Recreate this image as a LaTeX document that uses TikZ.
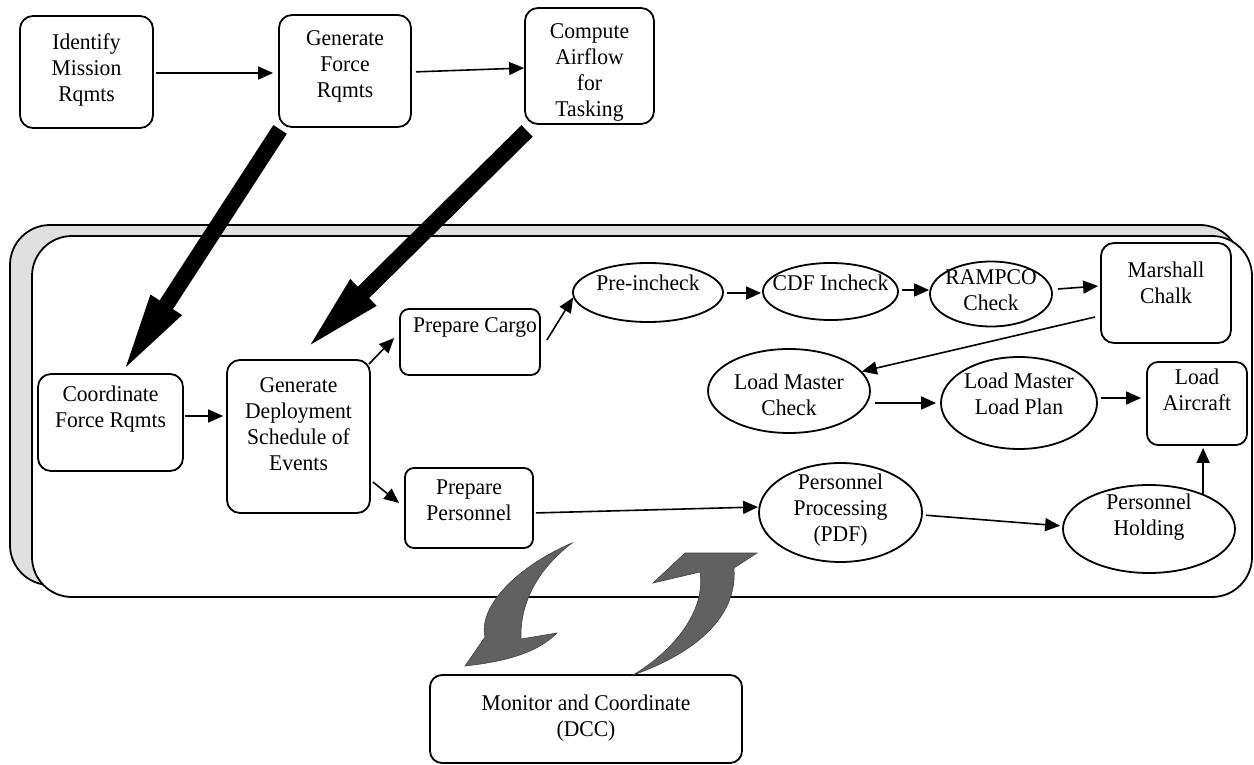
\documentclass[tikz,border=0pt]{standalone}
\usepackage{fontspec}
\setmainfont{Liberation Serif}[FakeStretch=0.96]
\usetikzlibrary{arrows.meta,shapes.geometric,calc}
\begin{document}
\begin{tikzpicture}[x=1pt,y=-1pt,
  box/.style={draw, line width=1.8pt, rounded corners=13pt, inner sep=0pt, fill=white},
  oval/.style={draw, ellipse, line width=1.8pt, inner sep=0pt, fill=white},
  txt/.style={align=center, inner sep=0pt, font=\fontsize{22.5}{26}\selectfont},
  flow/.style={line width=1.6pt, -{Triangle[length=15pt,width=13pt]}},
  bigflow/.style={line width=16pt, -{Triangle[length=85pt,width=32pt]}},
  swirl/.style={fill=black!62, draw=black!75, line width=0.6pt},
  framebox/.style={draw, line width=1.8pt, rounded corners=40pt}]
\useasboundingbox (0,0) rectangle (1254,765);
\fill[white] (0,0) rectangle (1254,765);

% frame with shadow
\draw[framebox, fill=black!12] (10,225) rectangle (1240,585);
\draw[framebox, fill=white] (32,236) rectangle (1252,597);

% top row
\node[box, minimum width=133pt, minimum height=112pt] (identify) at (86.5,72) {};
\node[txt] (identifyt) at (86.5,70) {Identify\\Mission\\Rqmts};
\node[box, minimum width=132pt, minimum height=112pt] (genforce) at (345,71) {};
\node[txt] (genforcet) at (345,66) {Generate\\Force\\Rqmts};
\node[box, minimum width=129pt, minimum height=116pt] (compute) at (589.5,66) {};
\node[txt] (computet) at (589.5,72.5) {Compute\\Airflow\\for\\Tasking};

% left part
\node[box, minimum width=145pt, minimum height=97pt] (coord) at (110.5,422.5) {};
\node[txt] (coordt) at (110.5,409) {Coordinate\\Force Rqmts};
\node[box, minimum width=143pt, minimum height=153pt] (gendep) at (298.5,436.5) {};
\node[txt] (gendept) at (298.5,424) {Generate\\Deployment\\Schedule of\\Events};
\node[box, rounded corners=9pt, minimum width=140pt, minimum height=66pt] (cargo) at (470,342) {};
\node[txt] (cargot) at (475,327) {Prepare Cargo};
\node[box, rounded corners=9pt, minimum width=128pt, minimum height=80pt] (personnel) at (469,508) {};
\node[txt] (personnelt) at (469,500) {Prepare\\Personnel};

% cargo chain
\node[oval, minimum width=150pt, minimum height=59pt] (preinc) at (648,292.5) {};
\node[txt] (preinct) at (648,283) {Pre-incheck};
\node[oval, minimum width=135pt, minimum height=57pt] (cdf) at (830.5,291.5) {};
\node[txt] (cdft) at (830.5,283) {CDF Incheck};
\node[oval, minimum width=122pt, minimum height=65pt] (rampco) at (991,294) {};
\node[txt] (rampcot) at (991,290) {RAMPCO\\Check};
\node[box, minimum width=130pt, minimum height=100pt] (marshall) at (1166,293) {};
\node[txt] (marshallt) at (1166,282.5) {Marshall\\Chalk};
\node[oval, minimum width=162pt, minimum height=84pt] (lmcheck) at (789,391) {};
\node[txt] (lmcheckt) at (789,395) {Load Master\\Check};
\node[oval, minimum width=156pt, minimum height=92pt] (lmlp) at (1019,403) {};
\node[txt] (lmlpt) at (1019,394) {Load Master\\Load Plan};
\node[box, rounded corners=11pt, minimum width=100pt, minimum height=83pt] (loadac) at (1197,403.5) {};
\node[txt] (loadact) at (1197,390) {Load\\Aircraft};

% personnel chain
\node[oval, minimum width=163pt, minimum height=99pt] (pdf) at (840.5,512.5) {};
\node[txt] (pdft) at (840.5,510) {Personnel\\Processing\\(PDF)};
\node[oval, minimum width=172pt, minimum height=88pt] (holding) at (1149,529) {};
\node[txt] (holdingt) at (1149,517) {Personnel\\Holding};

% monitor
\node[box, rounded corners=12pt, minimum width=312pt, minimum height=88pt] (monitor) at (586,719) {};
\node[txt] (monitort) at (586,718) {Monitor and Coordinate\\(DCC)};

% thin connectors
\draw[flow, shorten <=2pt, shorten >=5pt] (identify.east |- 0,73) -- (genforce.west |- 0,73);
\draw[flow, shorten <=4pt] (genforce.east |- 0,72) -- (compute.west |- 0,68);
\draw[flow, shorten <=1pt, shorten >=3pt] (coord.east |- 0,416) -- (gendep.west |- 0,416);
\draw[flow] ([shift={(-2,5)}]gendep.north east) -- ([shift={(-5,-4)}]cargo.west);
\draw[flow] ([shift={(2,45.5)}]gendep.east) -- ([shift={(-5,-5)}]personnel.west);
\draw[flow] ([shift={(6,-2)}]cargo.east) -- ([shift={(1,5)}]preinc.west);
\draw[flow, shorten <=3pt, shorten >=1pt] (preinc.east |- 0,293) -- (cdf.west |- 0,293);
\draw[flow, shorten <=3pt] (cdf.east |- 0,290) -- (rampco.west |- 0,290);
\draw[flow] ([shift={(5,-5)}]rampco.east) -- ([shift={(-2,-7)}]marshall.west);
\draw[flow] ([shift={(-5,24)}]marshall.west) -- (lmcheck.15);
\draw[flow, shorten <=4pt, shorten >=4pt] (lmcheck.east |- 0,403) -- (lmlp.west |- 0,403);
\draw[flow, shorten <=3pt, shorten >=5pt] (lmlp.east |- 0,398) -- (loadac.west |- 0,398);
\draw[flow, shorten <=2pt] (personnel.east |- 0,513) -- (pdf.west |- 0,507);
\draw[flow, shorten <=3pt, shorten >=2pt] (pdf.east |- 0,515) -- (holding.west |- 0,526);
\draw[flow, shorten >=2pt] (holding.33) -- (holding.33 |- loadac.south);

% thick block arrows
\draw[bigflow] ([shift={(2,1.5)}]genforce.south west) -- ([shift={(9.5,3)}]coord.north);
\draw[bigflow] ([shift={(3,6)}]compute.south west) -- ([shift={(4.5,-7)}]gendep.north);

% curved arrows
\filldraw[swirl] (572,543) .. controls (518,566) and (478,606) .. (485,637)
  -- (465,666) .. controls (500,662) and (535,655) .. (557,633)
  -- (521,639) .. controls (520,612) and (530,575) .. (572,543) -- cycle;
\filldraw[swirl] (633,675) .. controls (690,655) and (738,620) .. (734,568)
  -- (757,553) -- (685,553) -- (653,583) -- (700,572)
  .. controls (706,610) and (675,650) .. (633,675) -- cycle;
\end{tikzpicture}
\end{document}
